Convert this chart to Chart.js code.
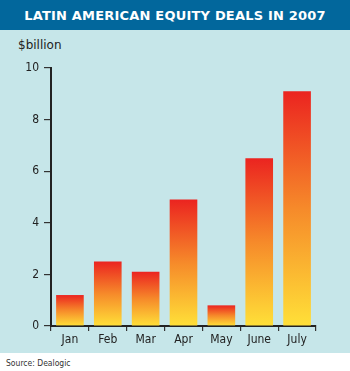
<!DOCTYPE html>
<html>
<head>
<meta charset="utf-8">
<script src="https://cdn.jsdelivr.net/npm/chart.js@4"></script>
<style>
  html, body { margin: 0; padding: 0; background: #fff; }
  #wrap { position: relative; width: 350px; height: 371px; overflow: hidden; font-family: "DejaVu Sans", sans-serif; }
  #title { position: absolute; left: 0; top: 0; width: 350px; height: 30px; background: #02679c;
    color: #fff; font-weight: bold; font-size: 13px; line-height: 31px; text-align: center; letter-spacing: 0.2px; }
  #panel { position: absolute; left: 0; top: 30px; width: 350px; height: 323px; background: #c6e6e9; }
  #unit { position: absolute; left: 18px; top: 38px; font-size: 12px; color: #222; }
  #source { position: absolute; left: 6px; top: 358px; font-size: 8.5px; color: #333; font-family: "DejaVu Sans Condensed", "DejaVu Sans", sans-serif; }
  #chart { position: absolute; left: 0; top: 30px; }
</style>
</head>
<body>
<div id="wrap">
  <div id="title">LATIN AMERICAN EQUITY DEALS IN 2007</div>
  <div id="panel"></div>
  <div id="unit">$billion</div>
  <canvas id="chart" width="350" height="323"></canvas>
  <div id="source">Source: Dealogic</div>
</div>
<script>
// deal value by month, $bn
const months = ["Jan", "Feb", "Mar", "Apr", "May", "June", "July"];
const deals = [1.2, 2.5, 2.1, 4.9, 0.8, 6.5, 9.1];
const yTicks = [0, 2, 4, 6, 8, 10];

const axisFont = { family: "'DejaVu Sans Condensed', 'DejaVu Sans', sans-serif", size: 12 };

function barFill(c) {
  const chart = c.chart;
  if (!chart.chartArea || c.type !== "data") return "#f6892a";
  const y = chart.scales.y;
  const top = y.getPixelForValue(c.raw);
  const bot = y.getPixelForValue(0);
  const g = chart.ctx.createLinearGradient(0, top, 0, bot);
  g.addColorStop(0, "#eb2420");
  g.addColorStop(0.5, "#f68a2a");
  g.addColorStop(1, "#ffe038");
  return g;
}

window.onload = function () {
  const ctx = document.getElementById("chart").getContext("2d");
  new Chart(ctx, {
    type: "bar",
    data: {
      labels: months,
      datasets: [{
        data: deals,
        backgroundColor: barFill,
        borderWidth: 0,
        barPercentage: 0.73,
        categoryPercentage: 1,
      }],
    },
    options: {
      responsive: false,
      animation: false,
      layout: { padding: { top: 38, right: 34, left: 0, bottom: 0 } },
      plugins: { legend: { display: false }, tooltip: { enabled: false } },
      scales: {
        x: {
          grid: { display: true, drawOnChartArea: false, tickLength: 5, color: "#333", lineWidth: 1.2, offset: true },
          border: { display: true, color: "#222", width: 2 },
          ticks: { color: "#222", font: axisFont, padding: 2 },
          afterFit: (s) => { s.height = 27; },
        },
        y: {
          min: 0,
          max: 10,
          afterBuildTicks: (s) => { s.ticks = yTicks.map((v) => ({ value: v })); },
          grid: { display: true, drawOnChartArea: false, tickLength: 7, color: "#333", lineWidth: 1.2 },
          border: { display: true, color: "#222", width: 2 },
          ticks: { color: "#222", font: axisFont, padding: 5 },
          afterFit: (s) => { s.width = 51; },
        },
      },
    },
  });
};
</script>
</body>
</html>
